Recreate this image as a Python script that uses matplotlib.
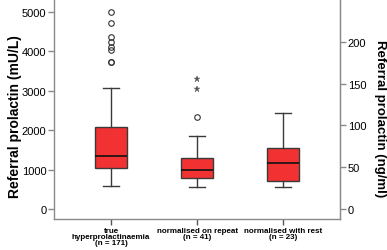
import numpy as np
import matplotlib
matplotlib.use("Agg")
import matplotlib.pyplot as plt

plt.rcParams['font.family'] = ['Liberation Sans', 'DejaVu Sans']

# group labels
groups = ["true\nhyperprolactinaemia\n(n = 171)",
          "normalised on repeat\n(n = 41)",
          "normalised with rest\n(n = 23)"]

# box statistics (mU/L)
q1 = [1040, 780, 718]
med = [1345, 990, 1167]
q3 = [2090, 1295, 1540]
whislo = [585, 566, 566]
whishi = [3070, 1860, 2430]
outliers = [[4990, 4720, 4370, 4240, 4110, 4030, 3730, 3720],
            [2330],
            []]
extremes = [[], [3290, 3050], []]

conv = 21.2  # mU/L per ng/ml

fig = plt.figure(figsize=(3.87, 2.51), dpi=100)
ax = fig.add_axes([0.1395, 0.1235, 0.7391, 0.8765])

stats = []
for i in range(3):
    stats.append(dict(q1=q1[i], med=med[i], q3=q3[i], whislo=whislo[i],
                      whishi=whishi[i], fliers=outliers[i]))

pos = [1, 2, 3]
ax.bxp(stats, positions=pos, widths=0.37, patch_artist=True,
       boxprops=dict(facecolor='#f23232', edgecolor='#3a3a3a', linewidth=1.0),
       medianprops=dict(color='#111111', linewidth=1.2),
       whiskerprops=dict(color='#3a3a3a', linewidth=1.0),
       capprops=dict(color='#3a3a3a', linewidth=1.0),
       flierprops=dict(marker='o', markerfacecolor='none', markeredgecolor='#333333',
                       markersize=4, markeredgewidth=0.8))

for i in range(3):
    if extremes[i]:
        ax.plot([pos[i]] * len(extremes[i]), extremes[i], linestyle='none',
                marker='*', markersize=4.5, color='#555555', markeredgewidth=0.3)

ax.set_xlim(0.337, 3.657)
ax.set_ylim(-254, 5330)
ax.set_yticks([0, 1000, 2000, 3000, 4000, 5000])
ax.set_xticks(pos)
ax.set_xticklabels(groups, fontsize=5.8, fontweight='bold', linespacing=0.8)

for s in ['top']:
    ax.spines[s].set_visible(False)
for s in ['left', 'right', 'bottom']:
    ax.spines[s].set_color('#8a8a8a')
    ax.spines[s].set_linewidth(1.0)
ax.tick_params(axis='y', length=4, width=1, color='#8a8a8a', labelsize=8, pad=1.5)
ax.tick_params(axis='x', length=4, width=1, color='#555555', pad=1.5)

sec = ax.secondary_yaxis('right', functions=(lambda v: v / conv, lambda v: v * conv))
sec.set_yticks([0, 50, 100, 150, 200])
sec.spines['right'].set_color('#8a8a8a')
sec.tick_params(length=4, width=1, color='#8a8a8a', labelsize=8, pad=1.5)

fig.text(15 / 387, 1 - 117 / 251, "Referral prolactin (mU/L)", fontsize=10,
         fontweight='bold', rotation=90, ha='center', va='center')
fig.text(380 / 387, 1 - 119 / 251, "Referral prolactin (ng/ml)", fontsize=9.5,
         fontweight='bold', rotation=270, ha='center', va='center')

fig.savefig("out.png", dpi=100)
